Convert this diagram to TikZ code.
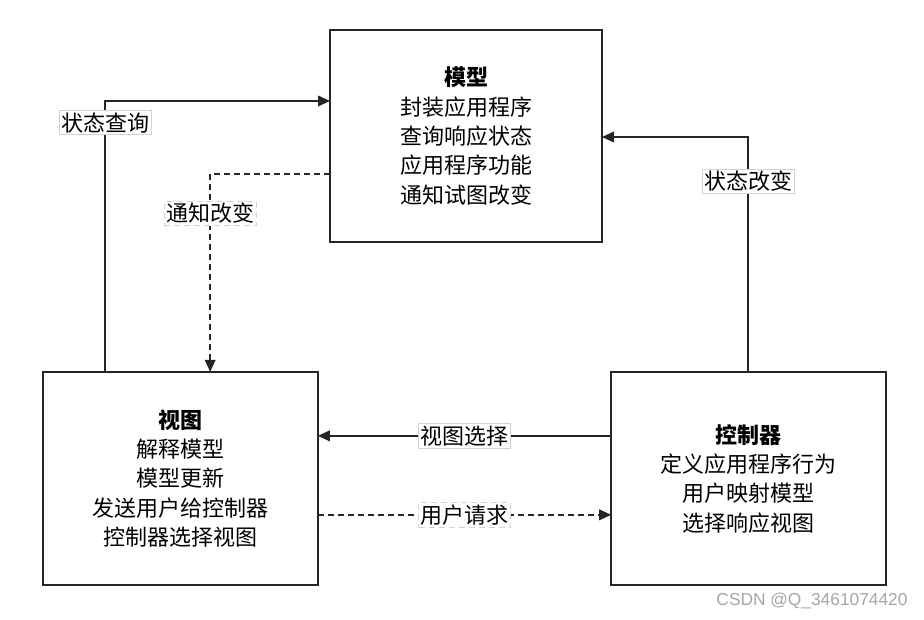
\documentclass[tikz,border=0pt]{standalone}
\usepackage{fontspec}
\usepackage{tikz}
\newfontfamily\cjk{Noto Sans CJK SC}
\newfontfamily\wmfont{Liberation Sans}
\usetikzlibrary{arrows.meta,calc,positioning}

\tikzset{
  block/.style={draw=black!85, line width=1.1pt, inner sep=0pt, outer sep=0pt,
    align=center, font=\cjk\fontsize{16.5}{22}\selectfont},
  lbl/.style={draw=gray!35, fill=white, line width=0.5pt, inner sep=1.5pt,
    font=\cjk\fontsize{16.5}{20}\selectfont},
  conn/.style={draw=black!85, line width=1.2pt, -{Triangle[length=9pt,width=8pt]}},
  dconn/.style={conn, dash pattern=on 4.5pt off 3pt},
}

\begin{document}
\begin{tikzpicture}[x=0.75pt, y=-0.75pt]
      \useasboundingbox (0,0) rectangle (924,620);
      \node[block, minimum width=204pt, minimum height=159pt] (model) at (466,136)
        {{\bfseries 模型}\\封装应用程序\\查询响应状态\\应用程序功能\\通知试图改变};
      \node[block, minimum width=206pt, minimum height=160pt] (view) at (180.5,478.5)
        {{\bfseries 视图}\\解释模型\\模型更新\\发送用户给控制器\\控制器选择视图};
      \node[block, minimum width=206pt, minimum height=160pt] (ctrl) at (748.5,478.5)
        {{\bfseries 控制器}\\定义应用程序行为\\用户映射模型\\选择响应视图};
      % ends of the connectors on the boxes
      \coordinate (query) at ($(view.north west)+(62,0)$);
      \coordinate (notify) at ($(view.north west)+(167,0)$);
      \coordinate (change) at ($(ctrl.north west)+(137,0)$);
      \path[conn] (query) |- node[lbl, pos=0.46] {状态查询} ($(model.north west)+(0,71)$);
      \path[dconn] ($(model.north west)+(0,144)$) -| node[lbl, pos=0.60] {通知改变} (notify);
      \path[conn] (change) |- node[lbl, pos=0.406] {状态改变} ($(model.north east)+(0,107)$);
      \path[conn] ($(ctrl.north west)+(0,64)$) -- node[lbl] {视图选择} ($(view.north east)+(0,64)$);
      \path[dconn] ($(view.north east)+(0,143)$) -- node[lbl] {用户请求} ($(ctrl.north west)+(0,143)$);
      \node[text=gray!70, font=\wmfont\fontsize{13}{15}\selectfont] (mark) at (812,601) {CSDN @Q\_3461074420};
    \end{tikzpicture}
\end{document}
